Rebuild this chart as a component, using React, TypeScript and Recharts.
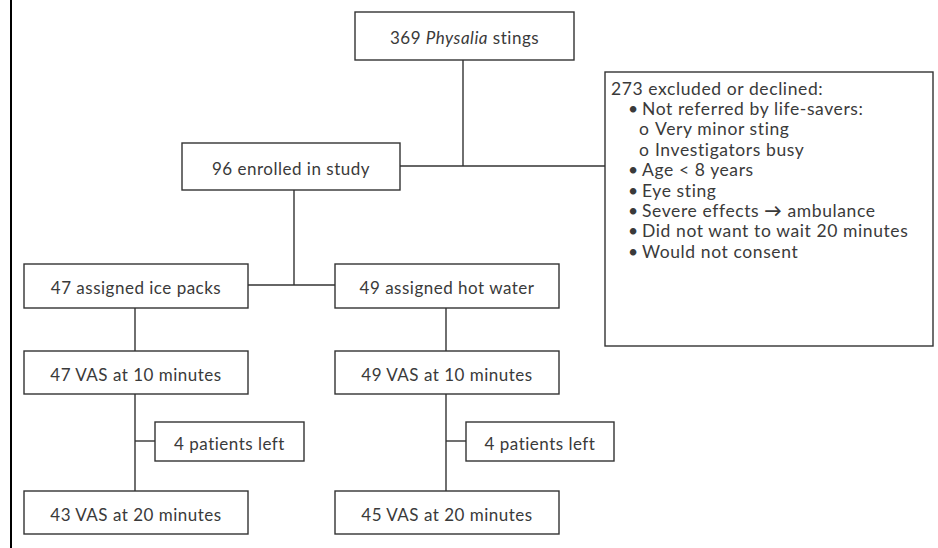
import React from 'react';
import { ScatterChart, Scatter, XAxis, YAxis, ReferenceLine } from 'recharts';

const WIDTH = 938;
const HEIGHT = 548;
const INK = '#333333';
const TEXT_INK = '#3a3a3a';
const FONT = 'Lato, "Noto Sans", sans-serif';

// flow boxes (text between * * is set in italics)
const boxLabels = [
  '369 *Physalia* stings',
  '96 enrolled in study',
  '47 assigned ice packs',
  '49 assigned hot water',
  '47 VAS at 10 minutes',
  '49 VAS at 10 minutes',
  '4 patients left',
  '4 patients left',
  '43 VAS at 20 minutes',
  '45 VAS at 20 minutes',
];
const boxLeft = [355, 182, 24, 335, 24, 335, 155, 466, 24, 335];
const boxTop = [12, 143, 264, 264, 351, 351, 422, 422, 491, 491];
const boxRight = [574, 400, 248, 559, 248, 559, 304, 614, 248, 559];
const boxBottom = [60, 190, 308, 308, 394, 394, 461, 461, 534, 534];

// exclusion box
const excludedTitle = '273 excluded or declined:';
const excludedReasons = [
  'Not referred by life-savers:',
  '-Very minor sting',
  '-Investigators busy',
  'Age < 8 years',
  'Eye sting',
  'Severe effects \u2192 ambulance',
  'Did not want to wait 20 minutes',
  'Would not consent',
];
const excludedBox = [605, 72, 933, 346];

// connectors [x1, y1, x2, y2]
const connectors = [
  [463, 60, 463, 166],
  [400, 166, 605, 166],
  [294, 190, 294, 285],
  [248, 285, 335, 285],
  [135, 308, 135, 351],
  [446, 308, 446, 351],
  [135, 394, 135, 491],
  [446, 394, 446, 491],
  [135, 441, 155, 441],
  [446, 441, 466, 441],
];

const richText = (label: string) =>
  label.split('*').map((part, i) => (
    <tspan key={i} fontStyle={i % 2 === 1 ? 'italic' : 'normal'}>{part}</tspan>
  ));

const arrowText = (line: string) =>
  line.split('\u2192').map((part, i) => (
    <React.Fragment key={i}>
      {i > 0 && <tspan fontWeight="bold">{'\u2192'}</tspan>}
      {part}
    </React.Fragment>
  ));

const boxData = boxLabels.map((label, i) => ({
  x: (boxLeft[i] + boxRight[i]) / 2,
  y: (boxTop[i] + boxBottom[i]) / 2,
  w: boxRight[i] - boxLeft[i],
  h: boxBottom[i] - boxTop[i],
  label,
}));

const excludedData = [{
  x: (excludedBox[0] + excludedBox[2]) / 2,
  y: (excludedBox[1] + excludedBox[3]) / 2,
  w: excludedBox[2] - excludedBox[0],
  h: excludedBox[3] - excludedBox[1],
}];

const FlowBox = (props: any) => {
  const { cx, cy, payload } = props;
  const { w, h, label } = payload;
  return (
    <g>
      <rect x={cx - w / 2} y={cy - h / 2} width={w} height={h} fill="#fff" stroke={INK} strokeWidth={1.4} />
      <text
        x={cx}
        y={cy + 1}
        textAnchor="middle"
        dominantBaseline="central"
        fill={TEXT_INK}
        fontFamily={FONT}
        fontSize={17}
        letterSpacing={0.5}
      >
        {richText(label)}
      </text>
    </g>
  );
};

const ExcludedBox = (props: any) => {
  const { cx, cy, payload } = props;
  const left = cx - payload.w / 2;
  const top = cy - payload.h / 2;
  const step = 20.4;
  return (
    <g fontFamily={FONT} fontSize={17.5} fill={TEXT_INK} letterSpacing={0.6}>
      <rect x={left} y={top} width={payload.w} height={payload.h} fill="#fff" stroke={INK} strokeWidth={1.4} />
      <text x={left + 6} y={top + 16} dominantBaseline="central">{excludedTitle}</text>
      {excludedReasons.map((r, i) => {
        const y = top + 16 + step * (i + 1);
        const sub = r.startsWith('-');
        return (
          <g key={i}>
            <text x={left + (sub ? 39 : 28)} y={y} dominantBaseline="central" textAnchor="middle" letterSpacing={0}>
              {sub ? 'o' : '\u2022'}
            </text>
            <text x={left + (sub ? 50 : 37)} y={y} dominantBaseline="central">
              {arrowText(sub ? r.slice(1) : r)}
            </text>
          </g>
        );
      })}
    </g>
  );
};

export default function App() {
  return (
    <div style={{ position: 'absolute', left: 0, top: 0, background: '#fff' }}>
      <ScatterChart width={WIDTH} height={HEIGHT} margin={{ top: 0, right: 0, bottom: 0, left: 0 }}>
        <XAxis type="number" dataKey="x" domain={[0, WIDTH]} hide />
        <YAxis type="number" dataKey="y" domain={[0, HEIGHT]} reversed hide />
        <ReferenceLine x={11} stroke="#000" strokeWidth={2} />
        {connectors.map((c, i) => (
          <ReferenceLine
            key={i}
            segment={[{ x: c[0], y: c[1] }, { x: c[2], y: c[3] }]}
            stroke={INK}
            strokeWidth={1.4}
          />
        ))}
        <Scatter data={boxData} shape={FlowBox} isAnimationActive={false} />
        <Scatter data={excludedData} shape={ExcludedBox} isAnimationActive={false} />
      </ScatterChart>
    </div>
  );
}
